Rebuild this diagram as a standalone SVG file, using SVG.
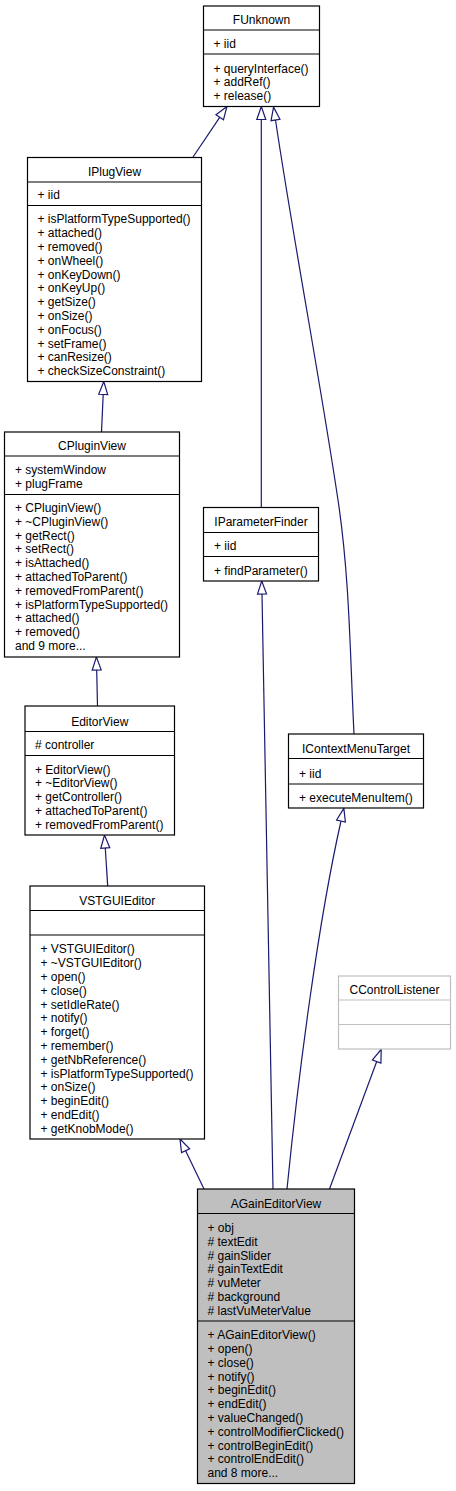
<svg xmlns="http://www.w3.org/2000/svg" width="456" height="1491" viewBox="0 0 456 1491">
<style>
.b{fill:#ffffff;stroke:#000000;stroke-width:1.2}
.g{fill:#ffffff;stroke:#bfbfbf;stroke-width:1.2}
.h{fill:#bfbfbf;stroke:#000000;stroke-width:1.2}
.s{stroke:#000000;stroke-width:1.2}
.sg{stroke:#bfbfbf;stroke-width:1.2}
text{font-family:"Liberation Sans",Arial,Helvetica,sans-serif;font-size:12px;fill:#000000}
.t{text-anchor:middle}
.e{fill:none;stroke:#191970;stroke-width:1.2;marker-end:url(#arr)}
</style>
<defs>
<marker id="arr" markerUnits="userSpaceOnUse" markerWidth="16" markerHeight="12" refX="0" refY="5" orient="auto" overflow="visible">
<path d="M0,0.5 L13,5 L0,9.5 Z" fill="#ffffff" stroke="#191970" stroke-width="1.2"/>
</marker>
</defs>
<rect width="456" height="1491" fill="#ffffff"/>
<g id="connectors">
<path class="e" d="M192.7,157.5 L219.7,117.3"/>
<path class="e" d="M261.3,507.5 L261.3,119.5"/>
<path class="e" d="M354,734 C350.1,656 349.7,578 338,500 C319.1,374 294.4,246 275.5,120"/>
<path class="e" d="M101.5,432 L103.2,394.5"/>
<path class="e" d="M97.5,706 L96.7,670"/>
<path class="e" d="M107.7,886 L105.3,848"/>
<path class="e" d="M204,1189 L185.6,1150.7"/>
<path class="e" d="M273,1189 L262,594"/>
<path class="e" d="M287,1189 C299,1069 318.5,921 341,821"/>
<path class="e" d="M329.5,1189 L376.7,1061.5"/>
</g>
<g id="FUnknown">
<rect class="b" x="203.5" y="6" width="116" height="100.5"/>
<line class="s" x1="203.5" y1="30" x2="319.5" y2="30"/>
<line class="s" x1="203.5" y1="54" x2="319.5" y2="54"/>
<text class="t" x="261.5" y="24">FUnknown</text>
<text x="213.5" y="47.5">+ iid</text>
<text x="213.5" y="72.5">+ queryInterface()</text>
<text x="213.5" y="86.3">+ addRef()</text>
<text x="213.5" y="100.1">+ release()</text>
</g>
<g id="IPlugView">
<rect class="b" x="27.5" y="157.5" width="174" height="224"/>
<line class="s" x1="27.5" y1="182" x2="201.5" y2="182"/>
<line class="s" x1="27.5" y1="205.5" x2="201.5" y2="205.5"/>
<text class="t" x="114.5" y="176">IPlugView</text>
<text x="37.5" y="199">+ iid</text>
<text x="37.5" y="223.4">+ isPlatformTypeSupported()</text>
<text x="37.5" y="237.2">+ attached()</text>
<text x="37.5" y="251">+ removed()</text>
<text x="37.5" y="264.8">+ onWheel()</text>
<text x="37.5" y="278.6">+ onKeyDown()</text>
<text x="37.5" y="292.4">+ onKeyUp()</text>
<text x="37.5" y="306.2">+ getSize()</text>
<text x="37.5" y="320">+ onSize()</text>
<text x="37.5" y="333.8">+ onFocus()</text>
<text x="37.5" y="347.6">+ setFrame()</text>
<text x="37.5" y="361.4">+ canResize()</text>
<text x="37.5" y="375.2">+ checkSizeConstraint()</text>
</g>
<g id="CPluginView">
<rect class="b" x="4.5" y="432" width="175" height="225"/>
<line class="s" x1="4.5" y1="456" x2="179.5" y2="456"/>
<line class="s" x1="4.5" y1="494.5" x2="179.5" y2="494.5"/>
<text class="t" x="92" y="450">CPluginView</text>
<text x="15" y="474">+ systemWindow</text>
<text x="15" y="487.8">+ plugFrame</text>
<text x="15" y="512">+ CPluginView()</text>
<text x="15" y="525.8">+ ~CPluginView()</text>
<text x="15" y="539.6">+ getRect()</text>
<text x="15" y="553.4">+ setRect()</text>
<text x="15" y="567.2">+ isAttached()</text>
<text x="15" y="581">+ attachedToParent()</text>
<text x="15" y="594.8">+ removedFromParent()</text>
<text x="15" y="608.6">+ isPlatformTypeSupported()</text>
<text x="15" y="622.4">+ attached()</text>
<text x="15" y="636.2">+ removed()</text>
<text x="15" y="650">and 9 more...</text>
</g>
<g id="EditorView">
<rect class="b" x="25" y="706" width="149.5" height="129"/>
<line class="s" x1="25" y1="731.5" x2="174.5" y2="731.5"/>
<line class="s" x1="25" y1="755.5" x2="174.5" y2="755.5"/>
<text class="t" x="99.75" y="725.5">EditorView</text>
<text x="35" y="749">#  controller</text>
<text x="35" y="773.5">+ EditorView()</text>
<text x="35" y="787.3">+ ~EditorView()</text>
<text x="35" y="801.1">+ getController()</text>
<text x="35" y="814.9">+ attachedToParent()</text>
<text x="35" y="828.7">+ removedFromParent()</text>
</g>
<g id="IParameterFinder">
<rect class="b" x="203.5" y="507.5" width="115" height="73.5"/>
<line class="s" x1="203.5" y1="532.5" x2="318.5" y2="532.5"/>
<line class="s" x1="203.5" y1="556.5" x2="318.5" y2="556.5"/>
<text class="t" x="261" y="526">IParameterFinder</text>
<text x="214" y="550">+ iid</text>
<text x="214" y="574.5">+ findParameter()</text>
</g>
<g id="IContextMenuTarget">
<rect class="b" x="288.5" y="734" width="135" height="74"/>
<line class="s" x1="288.5" y1="758.5" x2="423.5" y2="758.5"/>
<line class="s" x1="288.5" y1="784" x2="423.5" y2="784"/>
<text class="t" x="356" y="752.5">IContextMenuTarget</text>
<text x="299" y="777.5">+ iid</text>
<text x="299" y="801.5">+ executeMenuItem()</text>
</g>
<g id="VSTGUIEditor">
<rect class="b" x="30" y="886" width="174.5" height="253"/>
<line class="s" x1="30" y1="910.5" x2="204.5" y2="910.5"/>
<line class="s" x1="30" y1="935" x2="204.5" y2="935"/>
<text class="t" x="117.25" y="904.5">VSTGUIEditor</text>
<text x="40.5" y="953.3">+ VSTGUIEditor()</text>
<text x="40.5" y="967.1">+ ~VSTGUIEditor()</text>
<text x="40.5" y="980.9">+ open()</text>
<text x="40.5" y="994.7">+ close()</text>
<text x="40.5" y="1008.5">+ setIdleRate()</text>
<text x="40.5" y="1022.3">+ notify()</text>
<text x="40.5" y="1036.1">+ forget()</text>
<text x="40.5" y="1049.9">+ remember()</text>
<text x="40.5" y="1063.7">+ getNbReference()</text>
<text x="40.5" y="1077.5">+ isPlatformTypeSupported()</text>
<text x="40.5" y="1091.3">+ onSize()</text>
<text x="40.5" y="1105.1">+ beginEdit()</text>
<text x="40.5" y="1118.9">+ endEdit()</text>
<text x="40.5" y="1132.7">+ getKnobMode()</text>
</g>
<g id="CControlListener">
<rect class="g" x="338.5" y="976" width="112" height="73"/>
<line class="sg" x1="338.5" y1="1000" x2="450.5" y2="1000"/>
<line class="sg" x1="338.5" y1="1024.5" x2="450.5" y2="1024.5"/>
<text class="t" x="394.5" y="994">CControlListener</text>
</g>
<g id="AGainEditorView">
<rect class="h" x="197.5" y="1189" width="157" height="294.5"/>
<line class="s" x1="197.5" y1="1213.5" x2="354.5" y2="1213.5"/>
<line class="s" x1="197.5" y1="1321" x2="354.5" y2="1321"/>
<text class="t" x="276" y="1207.5">AGainEditorView</text>
<text x="207.5" y="1231.9">+ obj</text>
<text x="207.5" y="1245.7">#  textEdit</text>
<text x="207.5" y="1259.5">#  gainSlider</text>
<text x="207.5" y="1273.3">#  gainTextEdit</text>
<text x="207.5" y="1287.1">#  vuMeter</text>
<text x="207.5" y="1300.9">#  background</text>
<text x="207.5" y="1314.7">#  lastVuMeterValue</text>
<text x="207.5" y="1339.2">+ AGainEditorView()</text>
<text x="207.5" y="1353">+ open()</text>
<text x="207.5" y="1366.8">+ close()</text>
<text x="207.5" y="1380.6">+ notify()</text>
<text x="207.5" y="1394.4">+ beginEdit()</text>
<text x="207.5" y="1408.2">+ endEdit()</text>
<text x="207.5" y="1422">+ valueChanged()</text>
<text x="207.5" y="1435.8">+ controlModifierClicked()</text>
<text x="207.5" y="1449.6">+ controlBeginEdit()</text>
<text x="207.5" y="1463.4">+ controlEndEdit()</text>
<text x="207.5" y="1477.2">and 8 more...</text>
</g>
</svg>
